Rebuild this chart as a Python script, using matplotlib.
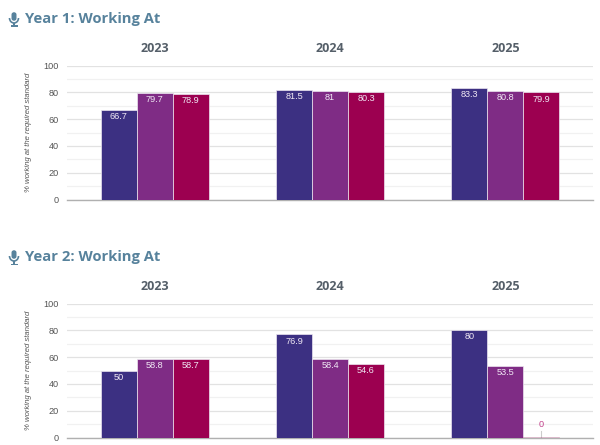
import numpy as np
import matplotlib
matplotlib.use("Agg")
import matplotlib.pyplot as plt
from matplotlib.patches import FancyBboxPatch, Arc, Rectangle

plt.rcParams['font.family'] = ['Open Sans', 'DejaVu Sans']

W, H = 600, 445

years = ["2023", "2024", "2025"]
year1_a = [66.7, 81.5, 83.3]
year1_b = [79.7, 81, 80.8]
year1_c = [78.9, 80.3, 79.9]
year2_a = [50, 76.9, 80]
year2_b = [58.8, 58.4, 53.5]
year2_c = [58.7, 54.6, 0]

titles = ["Year 1: Working At", "Year 2: Working At"]
y_label = "% working at the required standard"
colors = ["#3c3082", "#7f2c85", "#9c0050"]
TITLE_COL = "#57829c"
SMALL_FONT = "Liberation Sans"


def mic_icon(fig, cx, cy):
    # cx, cy in pixels from the top left
    def box(x, y, w, h):
        return (x / W, 1 - (y + h) / H, w / W, h / H)
    x, y, w, h = box(cx - 2.5, cy - 7, 5, 9)
    fig.add_artist(FancyBboxPatch((x, y), w, h, boxstyle="round,pad=0,rounding_size=0.006",
                                  transform=fig.transFigure, fc=TITLE_COL, ec="none"))
    fig.add_artist(Arc((cx / W, 1 - (cy - 1) / H), 9 / W, 10 / H, theta1=180, theta2=360,
                       transform=fig.transFigure, ec=TITLE_COL, lw=1.2))
    x, y, w, h = box(cx - 0.8, cy + 4, 1.6, 3)
    fig.add_artist(Rectangle((x, y), w, h, transform=fig.transFigure, fc=TITLE_COL, ec="none"))
    x, y, w, h = box(cx - 3.5, cy + 6.5, 7, 1.5)
    fig.add_artist(Rectangle((x, y), w, h, transform=fig.transFigure, fc=TITLE_COL, ec="none"))


def draw_chart(fig, top, bottom, series, title, title_y, year_y):
    left, right = 67, 593
    ax = fig.add_axes([left / W, 1 - bottom / H, (right - left) / W, (bottom - top) / H])
    x = np.arange(len(years))
    bw = 0.205
    for i, vals in enumerate(series):
        pos = x + (i - 1) * bw
        ax.bar(pos, vals, bw, color=colors[i], edgecolor="#ece6f0", linewidth=0.5, zorder=3)
        for p, v in zip(pos, vals):
            if v == 0:
                ax.plot([p, p], [0, 5], color="#cccccc", lw=0.8, zorder=2, clip_on=False)
                ax.plot([p - bw / 2, p + bw / 2], [0, 0], color=colors[i], alpha=0.25, lw=1.2, zorder=4)
                ax.text(p, 6, f"{v:g}", ha="center", va="bottom", fontsize=6.6,
                        family=SMALL_FONT, color="#c2408a", zorder=5)
            else:
                ax.text(p, v - 1.6, f"{v:g}", ha="center", va="top", fontsize=6.6,
                        family=SMALL_FONT, color="#f0e8f4", zorder=5)
    ax.set_xlim(-0.5, 2.5)
    ax.set_ylim(0, 100)
    ax.set_xticks([])
    ax.set_yticks(np.arange(0, 101, 20))
    ax.set_yticks(np.arange(10, 100, 20), minor=True)
    ax.grid(axis="y", which="major", color="#e2e2e2", lw=0.9, zorder=0)
    ax.grid(axis="y", which="minor", color="#f1f1f1", lw=0.9, zorder=0)
    ax.tick_params(axis="y", which="both", length=0, pad=6, labelsize=6.6, labelcolor="#555555")
    for lab in ax.get_yticklabels():
        lab.set_family(SMALL_FONT)
    for s in ["top", "right", "left"]:
        ax.spines[s].set_visible(False)
    ax.spines["bottom"].set_color("#b0b0b0")
    ax.spines["bottom"].set_linewidth(1)
    ax.set_ylabel(y_label, fontsize=5.6, style="italic", family=SMALL_FONT, color="#555555", labelpad=8)
    ax.patch.set_alpha(0)
    ax.set_axisbelow(True)
    for xi, yr in zip(x, years):
        px = left + (xi + 0.5) / 3 * (right - left)
        fig.text(px / W, 1 - year_y / H, yr, ha="center", va="center", fontsize=9,
                 fontweight="bold", color="#555f69")
    fig.text(25 / W, 1 - title_y / H, title, ha="left", va="center", fontsize=10.6,
             fontweight="bold", color=TITLE_COL)
    mic_icon(fig, 14, title_y)


fig = plt.figure(figsize=(W / 100, H / 100), dpi=100)
draw_chart(fig, 65.5, 199.5, [year1_a, year1_b, year1_c], titles[0], 19, 49)
draw_chart(fig, 303.5, 437.5, [year2_a, year2_b, year2_c], titles[1], 257, 287)
fig.savefig("out.png", dpi=100)
